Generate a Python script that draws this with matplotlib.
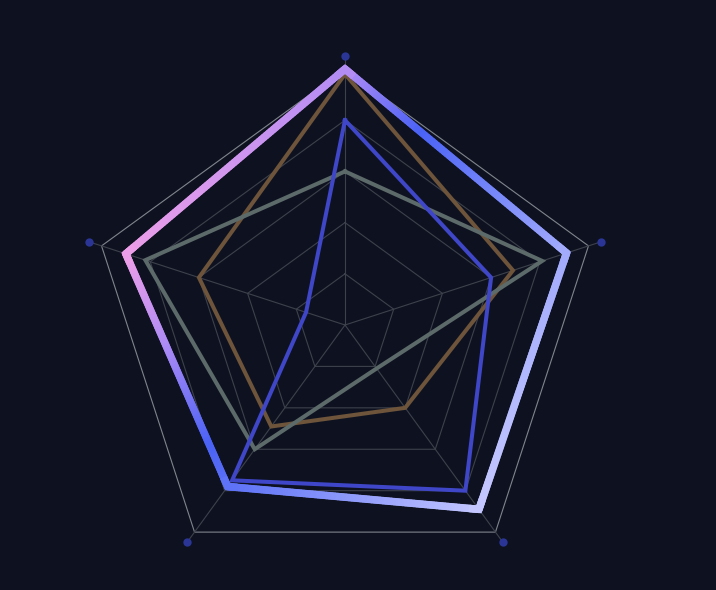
import numpy as np
import matplotlib.pyplot as plt
from matplotlib.collections import LineCollection
from matplotlib.colors import LinearSegmentedColormap

# radar de 5 ejes, sin nombres (solo puntos en cada eje)
ejes = ['E1', 'E2', 'E3', 'E4', 'E5']
anillos = [20, 40, 60, 80, 100]
radio_puntos = 105

serie_gradiente = [100, 91, 89, 78, 90]
serie_azul = [80, 60, 80, 75, 16]
serie_marron = [98, 69, 40, 49, 60]
serie_gris = [60, 81, 21, 60, 82]

fondo = '#0e1220'
angulos = np.deg2rad(90 - 72 * np.arange(len(ejes)))


def a_xy(valores):
    v = np.asarray(valores, dtype=float)
    return v * np.cos(angulos), v * np.sin(angulos)


def cerrar(x, y):
    return np.append(x, x[0]), np.append(y, y[0])


fig = plt.figure(figsize=(7.16, 5.90), dpi=100, facecolor=fondo)
ax = fig.add_axes([0, 0, 1, 1])
ax.set_facecolor(fondo)
esc = 2.56  # px por unidad
ax.set_xlim(-345 / esc, (716 - 345) / esc)
ax.set_ylim(-265 / esc, (590 - 265) / esc)
ax.axis('off')

# rejilla
for r in anillos:
    gx, gy = cerrar(*a_xy([r] * len(ejes)))
    col = '#80848d' if r == anillos[-1] else '#3d414c'
    ax.plot(gx, gy, color=col, lw=0.8, zorder=1)
px, py = a_xy([radio_puntos - 1] * len(ejes))
for i in range(len(ejes)):
    ax.plot([0, px[i]], [0, py[i]], color='#3d414c', lw=0.8, zorder=1)
dx, dy = a_xy([radio_puntos] * len(ejes))
ax.scatter(dx, dy, s=36, color='#2a3596', zorder=2, linewidths=0)

# series finas
for datos, col in [(serie_marron, '#6d543a'), (serie_gris, '#5d6a6a'), (serie_azul, '#3f47c8')]:
    sx, sy = cerrar(*a_xy(datos))
    ax.plot(sx, sy, color=col, lw=2.9, solid_joinstyle='miter', zorder=3)

# serie con degradado
cmap = LinearSegmentedColormap.from_list('deg', [
    (0.0, '#ec9ee8'), (0.18, '#b08cf5'), (0.40, '#4a62f5'), (1.0, '#c4c7ff')])
xg, yg = a_xy(serie_gradiente)
s = 0.82 * xg - 0.57 * yg
s0, s1 = s.min(), s.max()


def tono(x, y):
    return cmap(np.clip((0.82 * x - 0.57 * y - s0) / (s1 - s0), 0, 1))


xc, yc = cerrar(xg, yg)
segs, cols = [], []
p = np.linspace(0, 1, 90)
for i in range(len(ejes)):
    xs = xc[i] + (xc[i + 1] - xc[i]) * p
    ys = yc[i] + (yc[i + 1] - yc[i]) * p
    for j in range(len(p) - 1):
        segs.append([(xs[j], ys[j]), (xs[j + 1], ys[j + 1])])
        cols.append(tono((xs[j] + xs[j + 1]) / 2, (ys[j] + ys[j + 1]) / 2))
ax.add_collection(LineCollection(segs, colors=cols, linewidths=5.4, capstyle='round', zorder=5))

n = len(ejes)
for i in range(n):
    a, b = (i - 1) % n, (i + 1) % n
    qx = [xg[i] + 0.04 * (xg[a] - xg[i]), xg[i], xg[i] + 0.04 * (xg[b] - xg[i])]
    qy = [yg[i] + 0.04 * (yg[a] - yg[i]), yg[i], yg[i] + 0.04 * (yg[b] - yg[i])]
    ax.plot(qx, qy, color=tono(xg[i], yg[i]), lw=5.4, solid_joinstyle='miter',
            solid_capstyle='butt', zorder=6)

fig.savefig('out.png', dpi=100, facecolor=fondo)
